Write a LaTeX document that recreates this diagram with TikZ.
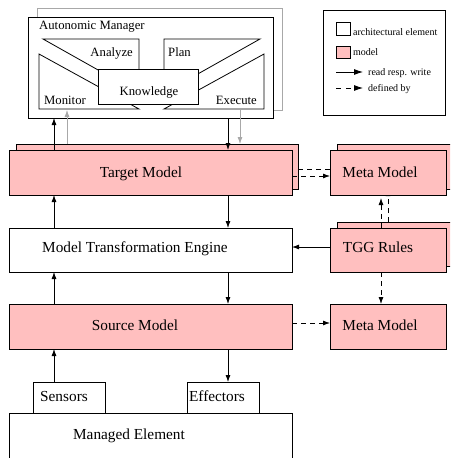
\documentclass[tikz,border=0pt]{standalone}
\usepackage{fontspec}
\setmainfont{Liberation Serif}
\usetikzlibrary{arrows.meta}
\definecolor{modelpink}{HTML}{FFBFBF}
\definecolor{backgray}{HTML}{A8A8A8}
\tikzset{
  box/.style={draw=black, line width=0.8pt, inner sep=0pt, outer sep=0pt, anchor=north west, fill=white},
  modelbox/.style={box, fill=modelpink},
  big/.style={font=\fontsize{15.3}{17}\selectfont, inner sep=0pt, anchor=base},
  mid/.style={font=\fontsize{12.7}{14}\selectfont, inner sep=0pt},
  small/.style={font=\fontsize{10}{12}\selectfont, inner sep=0pt, anchor=base west},
  arr/.style={line width=0.8pt, -{Latex[length=7pt,width=5pt]}},
  garr/.style={line width=0.8pt, draw=backgray, -{Latex[length=7pt,width=5pt]}},
  darr/.style={arr, dash pattern=on 5pt off 4pt},
}
\begin{document}
\begin{tikzpicture}[x=1pt, y=-1pt]
\useasboundingbox (0,0) rectangle (450,458);
\clip (0,0) rectangle (450,458);
% x positions
\coordinate (xA) at (54,0);
\coordinate (xG) at (67,0);
\coordinate (xB) at (228,0);
\coordinate (xH) at (240,0);
\coordinate (xM) at (381,0);
\coordinate (xN) at (388,0);
\coordinate (yU) at (0,169);
\coordinate (yL) at (0,176);
\coordinate (yT) at (0,247);
\coordinate (yS) at (0,323);

% Autonomic manager
\node[box, draw=backgray, fill=none, minimum width=245pt, minimum height=102pt] (amback) at (37,8) {};
\node[box, minimum width=245pt, minimum height=101pt] (am) at (28,17) {};
\node[mid, anchor=base west] (amt) at (39,29.5) {Autonomic Manager};
\draw[line width=0.8pt, fill=white] (43,39) -- (139,39) -- (139,93) -- cycle;
\draw[line width=0.8pt, fill=white] (39,54) -- (139,109) -- (39,109) -- cycle;
\draw[line width=0.8pt, fill=white] (260,39) -- (164,39) -- (164,93) -- cycle;
\draw[line width=0.8pt, fill=white] (264,54) -- (164,109) -- (264,109) -- cycle;
\node[box, minimum width=100pt, minimum height=35pt] (kn) at (98,69) {};
\node[mid, anchor=base] (knt) at (149,95) {Knowledge};
\node[mid, anchor=base east] (ant) at (133,56) {Analyze};
\node[mid, anchor=base west] (plt) at (168,56) {Plan};
\node[mid, anchor=base west] (mot) at (44,104.5) {Monitor};
\node[mid, anchor=base east] (ext) at (257,104.5) {Execute};

% back boxes
\node[modelbox, minimum width=282pt, minimum height=45pt] (tmb) at (16,144) {};
\node[modelbox, minimum width=130pt, minimum height=45pt] (mmb) at (337,144) {};
\node[modelbox, minimum width=130pt, minimum height=44pt] (tgb) at (337,222) {};

% arrows between back elements
\draw[garr] (xG |- tmb.north) -- (xG |- amback.south);
\draw[garr] (xH |- amback.south) -- (xH |- tmb.north);
\draw[darr] (tmb.east |- yU) -- (mmb.west |- yU);
\draw[darr] (xN |- tgb.north) -- (xN |- mmb.south);

% front boxes
\node[modelbox, minimum width=283pt, minimum height=45pt] (tm) at (9,150) {};
\node[modelbox, minimum width=116pt, minimum height=45pt] (mm) at (330,150) {};
\node[box, minimum width=283pt, minimum height=44pt] (mte) at (9,228) {};
\node[modelbox, minimum width=116pt, minimum height=44pt] (tgg) at (330,228) {};
\node[modelbox, minimum width=283pt, minimum height=45pt] (sm) at (9,304) {};
\node[modelbox, minimum width=116pt, minimum height=45pt] (mm2) at (330,304) {};
\node[box, minimum width=283pt, minimum height=70pt] (me) at (9,413) {};
\node[box, minimum width=72pt, minimum height=31pt] (sen) at (33,382) {};
\node[box, minimum width=72pt, minimum height=31pt] (eff) at (187,382) {};

% texts
\node[big] (tmt) at (141,177) {Target Model};
\node[big] (mmt) at (380,177) {Meta Model};
\node[big] (mtet) at (135,252) {Model Transformation Engine};
\node[big] (tggt) at (378,252) {TGG Rules};
\node[big] (smt) at (135,330) {Source Model};
\node[big] (mm2t) at (380,330) {Meta Model};
\node[big] (sent) at (64,401) {Sensors};
\node[big] (efft) at (217,401) {Effectors};
\node[big] (met) at (129,439) {Managed Element};

% front arrows
\draw[arr] (xA |- tm.north) -- (xA |- am.south);
\draw[arr] (xB |- am.south) -- (xB |- tm.north);
\draw[arr] (xA |- mte.north) -- (xA |- tm.south);
\draw[arr] (xB |- tm.south) -- (xB |- mte.north);
\draw[arr] (xA |- sm.north) -- (xA |- mte.south);
\draw[arr] (xB |- mte.south) -- (xB |- sm.north);
\draw[arr] (xA |- sen.north) -- (xA |- sm.south);
\draw[arr] (xB |- sm.south) -- (xB |- eff.north);
\draw[arr] (tgg.west |- yT) -- (mte.east |- yT);
\draw[darr] (tm.east |- yL) -- (mm.west |- yL);
\draw[darr, shorten >=3pt] (xM |- tgg.north) -- (xM |- mm.south);
\draw[darr] (xM |- tgg.south) -- (xM |- mm2.north);
\draw[darr] (sm.east |- yS) -- (mm2.west |- yS);

% legend
\node[box, minimum width=122pt, minimum height=105pt] (leg) at (323,10) {};
\node[box, minimum width=14pt, minimum height=13pt] (lgw) at (336,22) {};
\node[small] (lgwt) at (353,35.5) {architectural element};
\node[modelbox, minimum width=14pt, minimum height=12pt] (lgp) at (336,46) {};
\node[small] (lgpt) at (353,55.5) {model};
\coordinate (la1) at (336,72);
\coordinate (la2) at (363,72);
\draw[line width=0.8pt, -{Latex[length=9pt,width=6pt]}] (la1) -- (la2);
\node[small] (lat) at (368,75.5) {read resp. write};
\coordinate (ld1) at (336,88);
\coordinate (ld2) at (363,88);
\draw[line width=0.8pt, dash pattern=on 5pt off 5pt, -{Latex[length=9pt,width=6pt]}] (ld1) -- (ld2);
\node[small] (ldt) at (368,91.5) {defined by};
\end{tikzpicture}
\end{document}
